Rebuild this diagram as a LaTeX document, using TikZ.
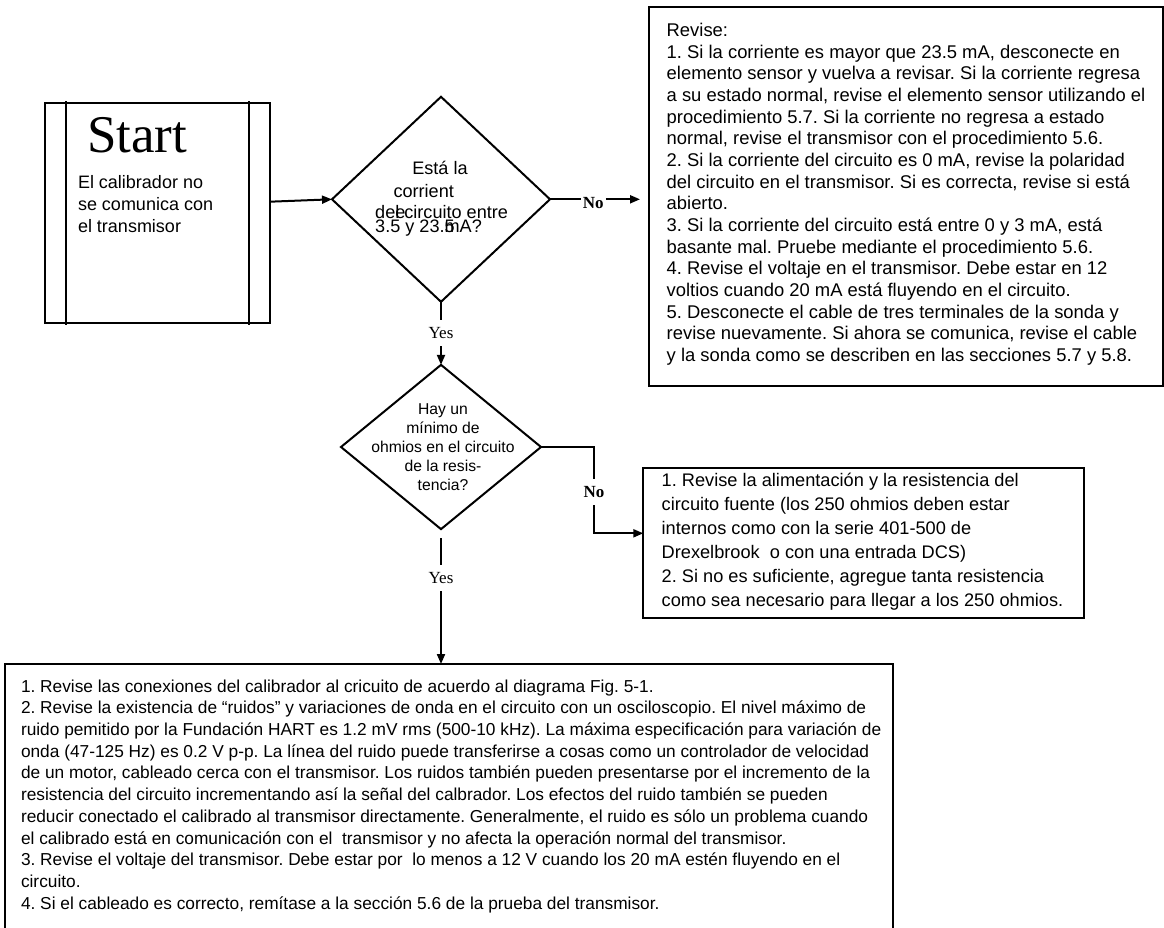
\documentclass[tikz,border=0pt]{standalone}
\usepackage{fontspec}
\setmainfont{Liberation Sans}
\newfontfamily\seriffont{Liberation Serif}
\usetikzlibrary{shapes.geometric,arrows.meta}
\frenchspacing
\begin{document}
\frenchspacing
\begin{tikzpicture}[x=1pt,y=-1pt,
  frame/.style={draw, line width=2pt, inner sep=0pt, outer sep=0pt, anchor=north west},
  conn/.style={line width=2pt},
  arr/.style={conn, -{Triangle[length=10pt,width=8pt]}},
  txt/.style={inner sep=0pt, outer sep=0pt, anchor=north west, align=left},
  lbl/.style={font=\seriffont\fontsize{17}{17}\selectfont, inner xsep=2pt, inner ysep=0pt, minimum height=26pt},
  nolbl/.style={lbl, font=\seriffont\bfseries\fontsize{17}{17}\selectfont},
  dtxt/.style={inner sep=0pt, font=\fontsize{18.1}{18.1}\selectfont},
  dec/.style={diamond, draw, line width=2pt, inner sep=0pt, outer sep=0pt}
]
\useasboundingbox (0,0) rectangle (1164,928);
\fill[white] (0,0) rectangle (1164,928);

% Start box
\node[frame, minimum width=225pt, minimum height=220pt] (start) at (45,103) {};
\draw[conn] ([xshift=21pt,yshift=1.5pt]start.north west) -- ([xshift=21pt,yshift=-1.5pt]start.south west);
\draw[conn] ([xshift=-20.7pt,yshift=1.5pt]start.north east) -- ([xshift=-20.7pt,yshift=-1.5pt]start.south east);
\node[anchor=base west, inner sep=0pt, font=\seriffont\fontsize{53}{53}\selectfont] (starttitle) at (87,152.7) {Start};
\node[txt, font=\fontsize{18}{22}\selectfont] (starttext) at (78,173.1) {\strut El calibrador no\\se comunica con\\el transmisor};

% Decision 1
\node[dec, minimum width=218pt, minimum height=205pt] (d1) at (441,199.3) {};
\node[dtxt, anchor=base] (d1a) at (440,174.8) {Está la};
\node[dtxt, anchor=base west] (d1b) at (393.3,197.2) {corrient};
\node[dtxt, anchor=base west] (d1c) at (375,218.2) {de\rlap{e}l circuito entre};
\node[dtxt, anchor=base west] (d1d) at (375,232) {3.5 y 23.\rlap{5}mA?};

\draw[arr] ([yshift=11.3pt]start.east) -- (d1.west);

% No (top)
\node[nolbl] (no1) at (593.3,203) {No};
\coordinate (a1) at (640,199.3);
\draw[conn] (d1.east) -- (d1.east -| no1.west);
\draw[arr] (no1.east |- d1.east) -- (a1);

% Top right box
\node[frame, minimum width=513.4pt, minimum height=379.3pt] (tbox) at (649.3,6.7) {};
\node[txt, font=\fontsize{18.4}{21.67}\selectfont] (ttext) at (666.7,21.4) {\strut Revise:\\
1. Si la corriente es mayor que 23.5 mA, desconecte en\\
elemento sensor y vuelva a revisar. Si la corriente regresa\\
a su estado normal, revise el elemento sensor utilizando el\\
procedimiento 5.7. Si la corriente no regresa a estado\\
normal, revise el transmisor con el procedimiento 5.6.\\
2. Si la corriente del circuito es 0 mA, revise la polaridad\\
del circuito en el transmisor. Si es correcta, revise si está\\
abierto.\\
3. Si la corriente del circuito está entre 0 y 3 mA, está\\
basante mal. Pruebe mediante el procedimiento 5.6.\\
4. Revise el voltaje en el transmisor. Debe estar en 12\\
voltios cuando 20 mA está fluyendo en el circuito.\\
5. Desconecte el cable de tres terminales de la sonda y\\
revise nuevamente. Si ahora se comunica, revise el cable\\
y la sonda como se describen en las secciones 5.7 y 5.8.};

% Yes 1
\node[lbl] (yes1) at (441,333) {Yes};
\draw[conn] (d1.south) -- (yes1.north);

% Decision 2
\node[dec, minimum width=200pt, minimum height=164.3pt] (d2) at (441,447) {};
\draw[arr] (yes1.south) -- (d2.north);
\node[inner sep=0pt, anchor=north, align=center, font=\fontsize{15.7}{19}\selectfont] (d2t) at (443,400.7) {\strut Hay un\\mínimo de\\ohmios en el circuito\\de la resis-\\tencia?};

% Middle box
\node[frame, minimum width=440.7pt, minimum height=150pt] (mbox) at (643.3,468.3) {};
\node[txt, font=\fontsize{18.2}{24}\selectfont] (mtext) at (661.7,469.8) {\strut 1. Revise la alimentación y la resistencia del\\
circuito fuente (los 250 ohmios deben estar\\
internos como con la serie 401-500 de\\
Drexelbrook~ o con una entrada DCS)\\
2. Si no es suficiente, agregue tanta resistencia\\
como sea necesario para llegar a los 250 ohmios.};

% No (lower)
\node[nolbl] (no2) at (594,492) {No};
\draw[conn] (d2.east) -| (no2.north);
\draw[arr] (no2.south) |- ([yshift=10pt]mbox.west);

% Yes 2
\node[lbl] (yes2) at (441,578) {Yes};
\draw[conn] ([yshift=-9pt]d2.south) -- (yes2.north);

% Bottom box
\node[frame, minimum width=888pt, minimum height=280pt] (bbox) at (5,664) {};
\draw[arr] (yes2.south) -- (yes2.south |- bbox.north);
\node[txt, font=\fontsize{17.3}{21.7}\selectfont] (btext) at (21,677) {\strut 1. Revise las conexiones del calibrador al cricuito de acuerdo al diagrama Fig. 5-1.\\
2. Revise la existencia de “ruidos” y variaciones de onda en el circuito con un osciloscopio. El nivel máximo de\\
ruido pemitido por la Fundación HART es 1.2 mV rms (500-10 kHz). La máxima especificación para variación de\\
onda (47-125 Hz) es 0.2 V p-p. La línea del ruido puede transferirse a cosas como un controlador de velocidad\\
de un motor, cableado cerca con el transmisor. Los ruidos también pueden presentarse por el incremento de la\\
resistencia del circuito incrementando así la señal del calbrador. Los efectos del ruido también se pueden\\
reducir conectado el calibrado al transmisor directamente. Generalmente, el ruido es sólo un problema cuando\\
el calibrado está en comunicación con el~ transmisor y no afecta la operación normal del transmisor.\\
3. Revise el voltaje del transmisor. Debe estar por~ lo menos a 12 V cuando los 20 mA estén fluyendo en el\\
circuito.\\
4. Si el cableado es correcto, remítase a la sección 5.6 de la prueba del transmisor.};
\end{tikzpicture}
\end{document}
